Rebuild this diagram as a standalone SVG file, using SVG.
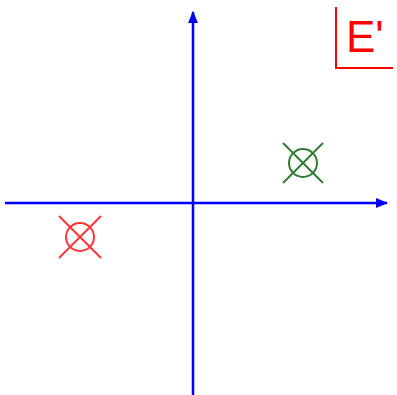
<svg xmlns="http://www.w3.org/2000/svg" width="397" height="395" viewBox="0 0 397 395">
<style>
.axis{stroke:#0000ff;stroke-width:2.5;fill:none}
.mark{fill:none;stroke-width:2}
</style>
<defs>
<marker id="arr" viewBox="0 0 10 10" refX="9" refY="5" markerWidth="5" markerHeight="5" orient="auto" markerUnits="strokeWidth">
<path d="M0,1 L10,5 L0,9 z" fill="#0000ff"/>
</marker>
</defs>
<rect width="397" height="395" fill="#fff"/>
<g id="axes" class="axis">
<line x1="5" y1="203" x2="387" y2="203" marker-end="url(#arr)"/>
<line x1="193" y1="395" x2="193" y2="12" marker-end="url(#arr)"/>
</g>
<g id="green-point" class="mark" stroke="#2e7d2e">
<circle cx="303" cy="163" r="14"/>
<line x1="283" y1="143" x2="323" y2="183"/>
<line x1="323" y1="143" x2="283" y2="183"/>
</g>
<g id="red-point" class="mark" stroke="#ff3333">
<circle cx="80" cy="237" r="14"/>
<line x1="59" y1="216" x2="101" y2="258"/>
<line x1="101" y1="216" x2="59" y2="258"/>
</g>
<g id="label">
<path d="M336,7 V68 H393" fill="none" stroke="#ff0000" stroke-width="2"/>
<text x="346" y="52" font-family="Liberation Sans, Arial, sans-serif" font-size="44" fill="#ff0000">E'</text>
</g>
</svg>
